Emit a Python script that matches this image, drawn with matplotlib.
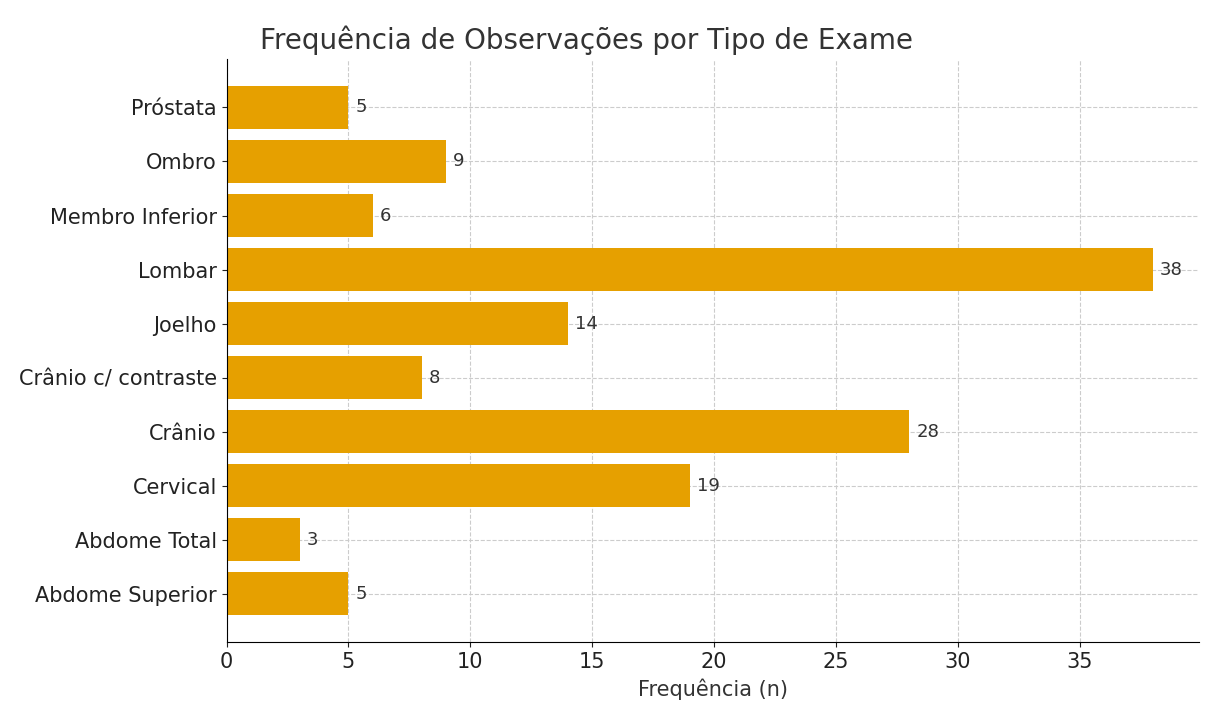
import matplotlib
matplotlib.use('Agg')
from matplotlib import pyplot as plt

# dados
exames = ['Abdome Superior', 'Abdome Total', 'Cervical', 'Crânio', 'Crânio c/ contraste',
          'Joelho', 'Lombar', 'Membro Inferior', 'Ombro', 'Próstata']
frequencias = [5, 3, 19, 28, 8, 14, 38, 6, 9, 5]

plt.rcParams['font.family'] = ['DejaVu Sans']
plt.rcParams['text.color'] = '#333333'

fig = plt.figure(figsize=(12.05, 7.02), dpi=100)
ax = fig.add_axes([0.188, 0.0855, 0.807, 0.83])

bars = ax.barh(exames, frequencias, color='#E6A000', height=0.8, zorder=2)

for b, v in zip(bars, frequencias):
    ax.text(v + 0.3, b.get_y() + b.get_height() / 2, str(v), va='center', ha='left',
            fontsize=13, color='#333333')

ax.set_xlim(0, max(frequencias) * 1.05)
ax.grid(True, linestyle='--', color='#cccccc', linewidth=0.8, zorder=0)
ax.spines['top'].set_visible(False)
ax.spines['right'].set_visible(False)
ax.tick_params(labelsize=15, colors='#222222')
ax.set_xlabel('Frequência (n)', fontsize=15, color='#333333', labelpad=5)

fig.text(586 / 1205, 1 - 40 / 702, 'Frequência de Observações por Tipo de Exame',
         ha='center', va='center', fontsize=20, color='#333333')

fig.savefig('out.png', dpi=100)
